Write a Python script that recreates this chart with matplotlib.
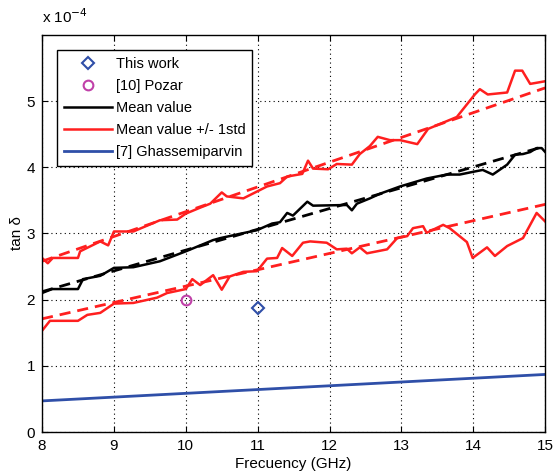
import matplotlib
matplotlib.use("Agg")
import matplotlib.pyplot as plt
import numpy as np

plt.rcParams['font.family'] = ['Liberation Sans', 'DejaVu Sans']

# ---- data (tan delta in units of 1e-4) ----
up_f = [8.00, 8.08, 8.15, 8.50, 8.53, 8.81, 8.92, 9.00, 9.27, 9.64, 9.88, 10.00, 10.20,
        10.34, 10.50, 10.57, 10.80, 11.13, 11.31, 11.41, 11.62, 11.70, 11.77, 11.98, 12.10,
        12.31, 12.42, 12.56, 12.67, 12.84, 12.98, 13.22, 13.37, 13.77, 14.02, 14.09, 14.20,
        14.47, 14.58, 14.68, 14.79, 15.00]
up_v = [2.63, 2.55, 2.63, 2.63, 2.73, 2.88, 2.82, 3.03, 3.03, 3.20, 3.21, 3.30, 3.39,
        3.45, 3.62, 3.56, 3.53, 3.71, 3.76, 3.86, 3.90, 4.10, 3.98, 3.97, 4.05,
        4.04, 4.20, 4.32, 4.46, 4.41, 4.41, 4.35, 4.58, 4.76, 5.10, 5.18, 5.10,
        5.13, 5.46, 5.46, 5.26, 5.30]

mean_f = [8.00, 8.14, 8.50, 8.57, 8.81, 9.00, 9.27, 9.64, 10.00, 10.38, 10.48, 10.99,
          11.20, 11.31, 11.41, 11.49, 11.69, 11.77, 12.24, 12.31, 12.38, 12.56, 12.70,
          12.98, 13.35, 13.63, 13.81, 13.99, 14.13, 14.27, 14.47, 14.58, 14.69, 14.79,
          14.88, 14.95, 15.00]
mean_v = [2.10, 2.16, 2.16, 2.31, 2.36, 2.48, 2.49, 2.58, 2.73, 2.90, 2.93, 3.05,
          3.15, 3.17, 3.31, 3.27, 3.48, 3.42, 3.43, 3.35, 3.45, 3.53, 3.60,
          3.71, 3.83, 3.89, 3.89, 3.93, 3.96, 3.89, 4.04, 4.19, 4.20, 4.23,
          4.29, 4.29, 4.23]

lo_f = [8.00, 8.11, 8.50, 8.63, 8.81, 9.00, 9.27, 9.60, 9.74, 10.00, 10.09, 10.20, 10.38,
        10.50, 10.61, 10.80, 10.99, 11.13, 11.27, 11.34, 11.48, 11.63, 11.73, 11.96, 12.10,
        12.24, 12.31, 12.42, 12.52, 12.80, 12.94, 13.08, 13.16, 13.30, 13.35, 13.58, 13.67,
        13.91, 13.99, 14.19, 14.30, 14.47, 14.69, 14.88, 15.00]
lo_v = [1.53, 1.68, 1.68, 1.77, 1.80, 1.94, 1.95, 2.03, 2.10, 2.16, 2.31, 2.22, 2.37,
        2.15, 2.35, 2.42, 2.43, 2.62, 2.63, 2.78, 2.66, 2.86, 2.88, 2.86, 2.76,
        2.77, 2.70, 2.79, 2.70, 2.76, 2.93, 2.96, 3.08, 3.11, 3.01, 3.13, 3.08,
        2.87, 2.63, 2.79, 2.66, 2.81, 2.93, 3.31, 3.18]

fit_f = [8.0, 15.0]
fit_up = [2.58, 5.20]
fit_mean = [2.12, 4.32]
fit_lo = [1.71, 3.44]

ghas_f = [8.0, 15.0]
ghas_v = [0.47, 0.87]

this_f = [11.0]
this_v = [1.88]
pozar_f = [10.0]
pozar_v = [2.00]

xticks = [8, 9, 10, 11, 12, 13, 14, 15]
yticks = [0, 1, 2, 3, 4, 5]

RED = '#FF1F1F'
BLUE = '#2F4FA8'
MAG = '#C040A8'

fig = plt.figure(figsize=(5.53, 4.75), dpi=100)
ax = fig.add_axes([0.076, 0.0905, 0.910, 0.836])

dash = (4, 2.5)
ax.plot(this_f, this_v, linestyle='none', marker='D', markersize=6, mfc='none',
        mec=BLUE, mew=1.5, label='This work')
ax.plot(pozar_f, pozar_v, linestyle='none', marker='o', markersize=7, mfc='none',
        mec=MAG, mew=1.5, label='[10] Pozar')
ax.plot(mean_f, mean_v, color='black', lw=1.8, label='Mean value')
ax.plot(up_f, up_v, color=RED, lw=1.8, label='Mean value +/- 1std')
ax.plot(lo_f, lo_v, color=RED, lw=1.8)
ax.plot(fit_f, fit_mean, color='black', lw=2.0, ls='--', dashes=dash)
ax.plot(fit_f, fit_up, color=RED, lw=2.0, ls='--', dashes=dash)
ax.plot(fit_f, fit_lo, color=RED, lw=2.0, ls='--', dashes=dash)
ax.plot(ghas_f, ghas_v, color=BLUE, lw=2.0, label='[7] Ghassemiparvin')

ax.set_xlim(8, 15)
ax.set_ylim(0, 6)
ax.set_xticks(xticks)
ax.set_yticks(yticks)
ax.tick_params(direction='in', top=True, right=True, labelsize=11, length=4, pad=5)
ax.grid(True, color='black', linestyle=(0, (1, 3)), linewidth=0.8)
for s in ax.spines.values():
    s.set_linewidth(1.0)

ax.set_xlabel('Frecuency (GHz)', fontsize=11, labelpad=3)
ax.set_ylabel('tan δ', fontsize=11, labelpad=2)
fig.text(0.076, 0.945, 'x 10$^{-4}$', fontsize=11, ha='left', va='bottom')

leg = ax.legend(loc='upper left', bbox_to_anchor=(0.030, 0.961), fontsize=10.5,
                frameon=True, fancybox=False, edgecolor='black', framealpha=1,
                handlelength=3.3, labelspacing=0.55, borderpad=0.45, handletextpad=0.3,
                borderaxespad=0)
leg.get_frame().set_linewidth(1.0)

fig.savefig('out.png', dpi=100)
